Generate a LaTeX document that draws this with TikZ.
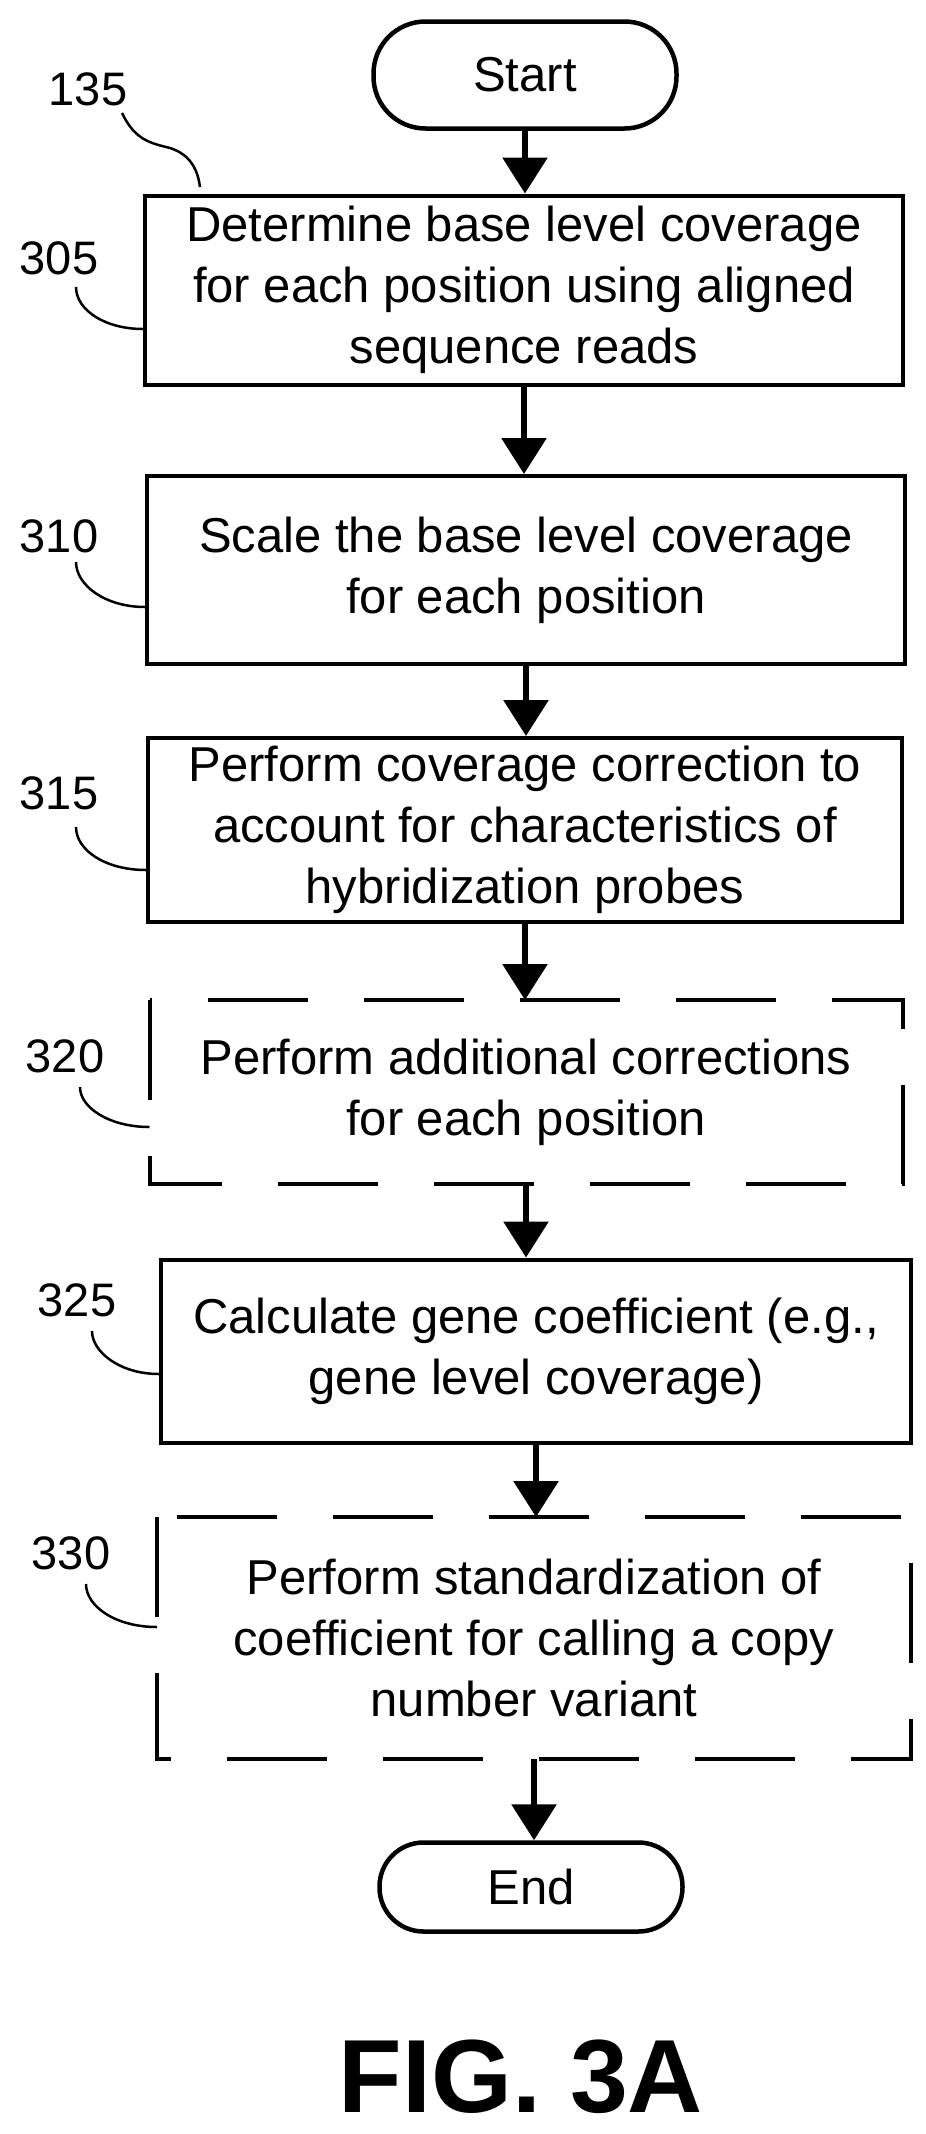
\documentclass[tikz,border=0pt]{standalone}
\usepackage{fontspec}
\setmainfont{Liberation Sans}
\usetikzlibrary{arrows.meta}
\begin{document}
\begin{tikzpicture}[x=1pt,y=-1pt,
  box/.style={draw,line width=4pt,inner sep=0pt,align=center,font=\fontsize{49}{61}\selectfont},
  dbox/.style={box,draw=none},
  term/.style={draw,line width=4.5pt,rounded corners=44pt,inner sep=0pt,font=\fontsize{49}{61}\selectfont},
  lab/.style={font=\fontsize{47}{50}\selectfont,inner sep=0pt},
  lead/.style={line width=2.5pt},
  arr/.style={line width=6pt,-{Triangle[width=44pt,length=36pt]}},
  dashbox/.style={line width=4pt,dash pattern=on 100pt off 56pt}]
\useasboundingbox (0,0) rectangle (926,2134);
\node[term,minimum width=303pt,minimum height=107pt,rounded corners=52pt] (start) at (525,75) {Start};
\node[box,minimum width=758pt,minimum height=189pt] (b305) at (524,290) {Determine base level coverage\\for each position using aligned\\sequence reads};
\node[box,minimum width=758pt,minimum height=188pt] (b310) at (526,570) {Scale the base level coverage\\for each position};
\node[box,minimum width=754pt,minimum height=184pt] (b315) at (525,830) {Perform coverage correction to\\account for characteristics of\\hybridization probes};
\node[dbox,minimum width=749pt,minimum height=180pt] (b320) at (526,1092) {Perform additional corrections\\for each position};
\draw[dashbox] (b320.north west) rectangle (b320.south east);
\node[box,minimum width=750pt,minimum height=183pt] (b325) at (536,1351) {Calculate gene coefficient (e.g.,\\gene level coverage)};
\node[dbox,minimum width=750pt,minimum height=238pt] (b330) at (534,1638) {Perform standardization of\\coefficient for calling a copy\\number variant};
\draw[dashbox] (b330.north west) rectangle (b330.south east);
\node[term,minimum width=303pt,minimum height=89pt] (end) at (531,1887) {End};
\node[font=\bfseries\fontsize{104}{110}\selectfont,inner sep=0pt,anchor=base] (fig) at (521,2112) {FIG. 3A};

\foreach \a/\b in {start/b305,b305/b310,b310/b315,b315/b320,b320/b325,b325/b330,b330/end}
  \draw[arr] (\a.south) -- (\a.south |- \b.north);

\node[lab] (l135) at (88,89) {135};
\node[lab] (l305) at (59,258) {305};
\node[lab] (l310) at (59,536) {310};
\node[lab] (l315) at (59,793) {315};
\node[lab] (l320) at (65,1056) {320};
\node[lab] (l325) at (77,1300) {325};
\node[lab] (l330) at (71,1553) {330};

\draw[lead] (122,113) .. controls (135,140) and (150,143) .. (170,148) .. controls (192,155) and (198,172) .. (200,187);
\coordinate (e305) at (b305.west |- 0,329);
\draw[lead] (76,287) .. controls (76,310) and (105,329) .. (e305);
\coordinate (e310) at (b310.west |- 0,607);
\draw[lead] (76,562) .. controls (76,585) and (105,607) .. (e310);
\coordinate (e315) at (b315.west |- 0,870);
\draw[lead] (76,827) .. controls (76,850) and (105,870) .. (e315);
\coordinate (e320) at (b320.west |- 0,1127);
\draw[lead] (80,1087) .. controls (80,1108) and (110,1127) .. (e320);
\coordinate (e325) at (b325.west |- 0,1374);
\draw[lead] (92,1331) .. controls (92,1352) and (120,1374) .. (e325);
\coordinate (e330) at (b330.west |- 0,1627);
\draw[lead] (86,1584) .. controls (86,1606) and (115,1627) .. (e330);
\end{tikzpicture}
\end{document}
